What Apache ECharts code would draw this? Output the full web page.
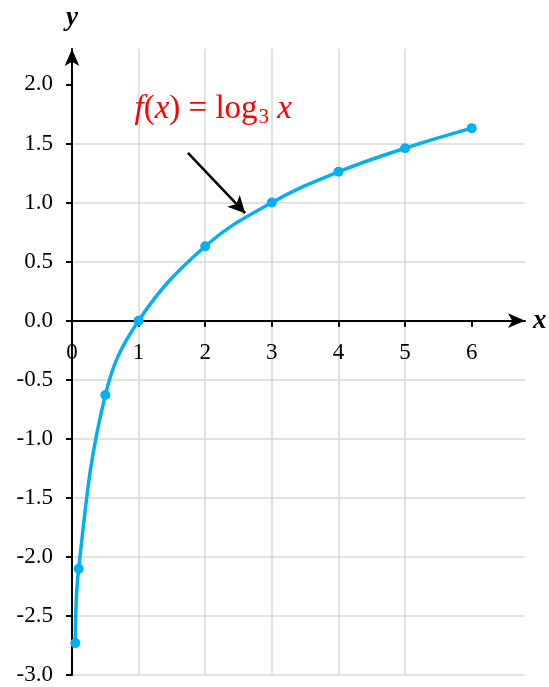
<!DOCTYPE html>
<html><head><meta charset="utf-8">
<script src="https://cdn.jsdelivr.net/npm/echarts@6/dist/echarts.min.js"></script>
<style>html,body{margin:0;padding:0;background:#fff}#c{width:549px;height:687px}</style>
</head><body><div id="c"></div>
<script>
const xValues = [0.05, 0.1, 0.5, 1, 2, 3, 4, 5, 6];
const yValues = [-2.73, -2.10, -0.63, 0, 0.63, 1, 1.26, 1.46, 1.63];
const xTicks = [0, 1, 2, 3, 4, 5, 6];
const yTicks = [-3, -2.5, -2, -1.5, -1, -0.5, 0, 0.5, 1, 1.5, 2];
const arrowFrom = [1.74, 1.42];
const arrowTo = [2.6, 0.91];
const labelAt = [2.12, 1.79];

const serif = '"Liberation Serif", "DejaVu Serif", serif';
const chart = echarts.init(document.getElementById('c'), null, {renderer: 'canvas'});
const gridLine = {show: true, showMinLine: true, showMaxLine: false, lineStyle: {color: '#d9d9d9', width: 1.5}};
const option = {
  animation: false,
  backgroundColor: '#fff',
  grid: {left: 72, right: 24, top: 49, bottom: 12, containLabel: false, outerBoundsMode: 'none'},
  xAxis: {
    type: 'value', min: 0, max: 6.8, interval: 1,
    position: 'bottom', offset: 0,
    name: 'x', nameLocation: 'end', nameGap: 8,
    nameTextStyle: {fontFamily: serif, fontStyle: 'italic', fontWeight: 'bold', fontSize: 27, color: '#000', verticalAlign: 'middle'},
    axisLine: {onZero: false, symbol: ['none', 'arrow'], symbolSize: [11, 17], lineStyle: {color: '#000', width: 2}},
    axisTick: {show: true, length: 6, customValues: xTicks, lineStyle: {color: '#000', width: 2}},
    axisLabel: {fontFamily: serif, fontSize: 23, color: '#000', margin: 21, customValues: xTicks,
      formatter: v => (Math.abs(v - Math.round(v)) < 1e-9 ? String(Math.round(v)) : '')},
    splitLine: gridLine
  },
  yAxis: {
    type: 'value', min: -3, max: 2.3, interval: 0.5,
    name: 'y', nameLocation: 'end', nameGap: 17,
    nameTextStyle: {fontFamily: serif, fontStyle: 'italic', fontWeight: 'bold', fontSize: 27, color: '#000', align: 'center'},
    axisLine: {onZero: true, symbol: ['none', 'arrow'], symbolSize: [11, 17], lineStyle: {color: '#000', width: 2}},
    axisTick: {show: true, length: 6, customValues: yTicks, lineStyle: {color: '#000', width: 2}},
    axisLabel: {fontFamily: serif, fontSize: 23, color: '#000', margin: 19, customValues: yTicks,
      formatter: v => (Math.abs(v * 2 - Math.round(v * 2)) < 1e-9 ? v.toFixed(1) : '')},
    splitLine: gridLine
  },
  series: [{
    type: 'line',
    data: xValues.map((x, i) => [x, yValues[i]]),
    smooth: 0.4,
    symbol: 'circle', symbolSize: 10,
    itemStyle: {color: '#00b0f0'},
    lineStyle: {color: '#00b0f0', width: 3.5},
    z: 5,
    markLine: {
      silent: true, symbol: ['none', 'arrow'], symbolSize: [13, 17],
      lineStyle: {color: '#000', width: 2.5, type: 'solid'},
      label: {show: false},
      data: [[{coord: arrowFrom}, {coord: arrowTo}]]
    }
  }]
};
chart.setOption(option);
const yMinPx = chart.convertToPixel({yAxisIndex: 0}, -3);
const yZeroPx = chart.convertToPixel({yAxisIndex: 0}, 0);
const p = chart.convertToPixel({gridIndex: 0}, labelAt);
chart.setOption({
  xAxis: {offset: yZeroPx - yMinPx},
  graphic: [{
    type: 'text', x: p[0], y: p[1], z: 10,
    style: {
      text: '{i|f}{n|(}{i|x}{n|) = log}{s|3}{i| x}',
      align: 'center', verticalAlign: 'middle',
      rich: {
        i: {fontFamily: serif, fontStyle: 'italic', fontSize: 33, fill: '#ff0000', color: '#ff0000'},
        n: {fontFamily: serif, fontSize: 33, fill: '#ff0000', color: '#ff0000'},
        s: {fontFamily: serif, fontSize: 21, fill: '#ff0000', color: '#ff0000', padding: [16, 0, 0, 1]}
      }
    }
  }]
});
</script></body></html>
